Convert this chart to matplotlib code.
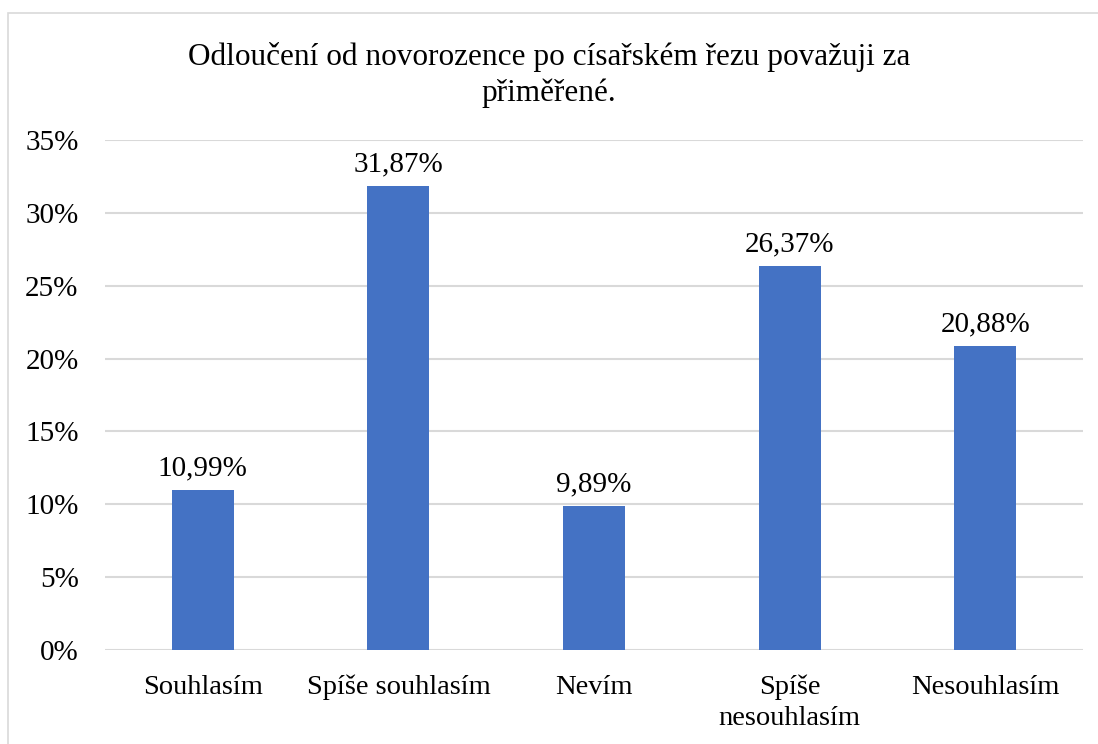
import matplotlib.pyplot as plt
from matplotlib.patches import Rectangle
from matplotlib.ticker import FuncFormatter

categories = ["Souhlasím", "Spíše souhlasím", "Nevím", "Spíše\nnesouhlasím", "Nesouhlasím"]
values = [10.99, 31.87, 9.89, 26.37, 20.88]
labels = ["10,99%", "31,87%", "9,89%", "26,37%", "20,88%"]
title = "Odloučení od novorozence po císařském řezu považuji za\npřiměřené."

plt.rcParams['font.family'] = 'Liberation Serif'

fig = plt.figure(figsize=(10.98, 7.44), dpi=100)
ax = fig.add_axes([105 / 1098, 1 - 650 / 744, (1083 - 105) / 1098, (650 - 140) / 744])

x = range(len(categories))
bars = ax.bar(x, values, width=0.316, color="#4472C4", zorder=3)
for b, lab in zip(bars, labels):
    ax.annotate(lab, (b.get_x() + b.get_width() / 2, b.get_height()),
                xytext=(0, 6), textcoords="offset points",
                ha="center", va="bottom", fontsize=21)

ax.set_xlim(-0.5, len(categories) - 0.5)
ax.set_ylim(0, 35)
ax.set_yticks(range(0, 36, 5))
ax.yaxis.set_major_formatter(FuncFormatter(lambda v, p: f"{int(v)}%"))
ax.set_xticks(list(x))
ax.set_xticklabels(categories, fontsize=20.5, linespacing=1.3)
ax.tick_params(axis='y', labelsize=21, length=0, pad=19)
ax.tick_params(axis='x', length=0, pad=18)
ax.grid(axis='y', color="#d9d9d9", linewidth=1.5, zorder=0)
for s in ax.spines.values():
    s.set_visible(False)

fig.text(0.5, 1 - 42 / 744, title, ha="center", va="top", fontsize=22.5, linespacing=1.27)

fig.patches.append(Rectangle((8 / 1098, -0.1), 1.2, 1 - 13 / 744 + 0.1,
                             transform=fig.transFigure, fill=False,
                             edgecolor="#d9d9d9", linewidth=1.2))

fig.savefig("out.png", dpi=100)
